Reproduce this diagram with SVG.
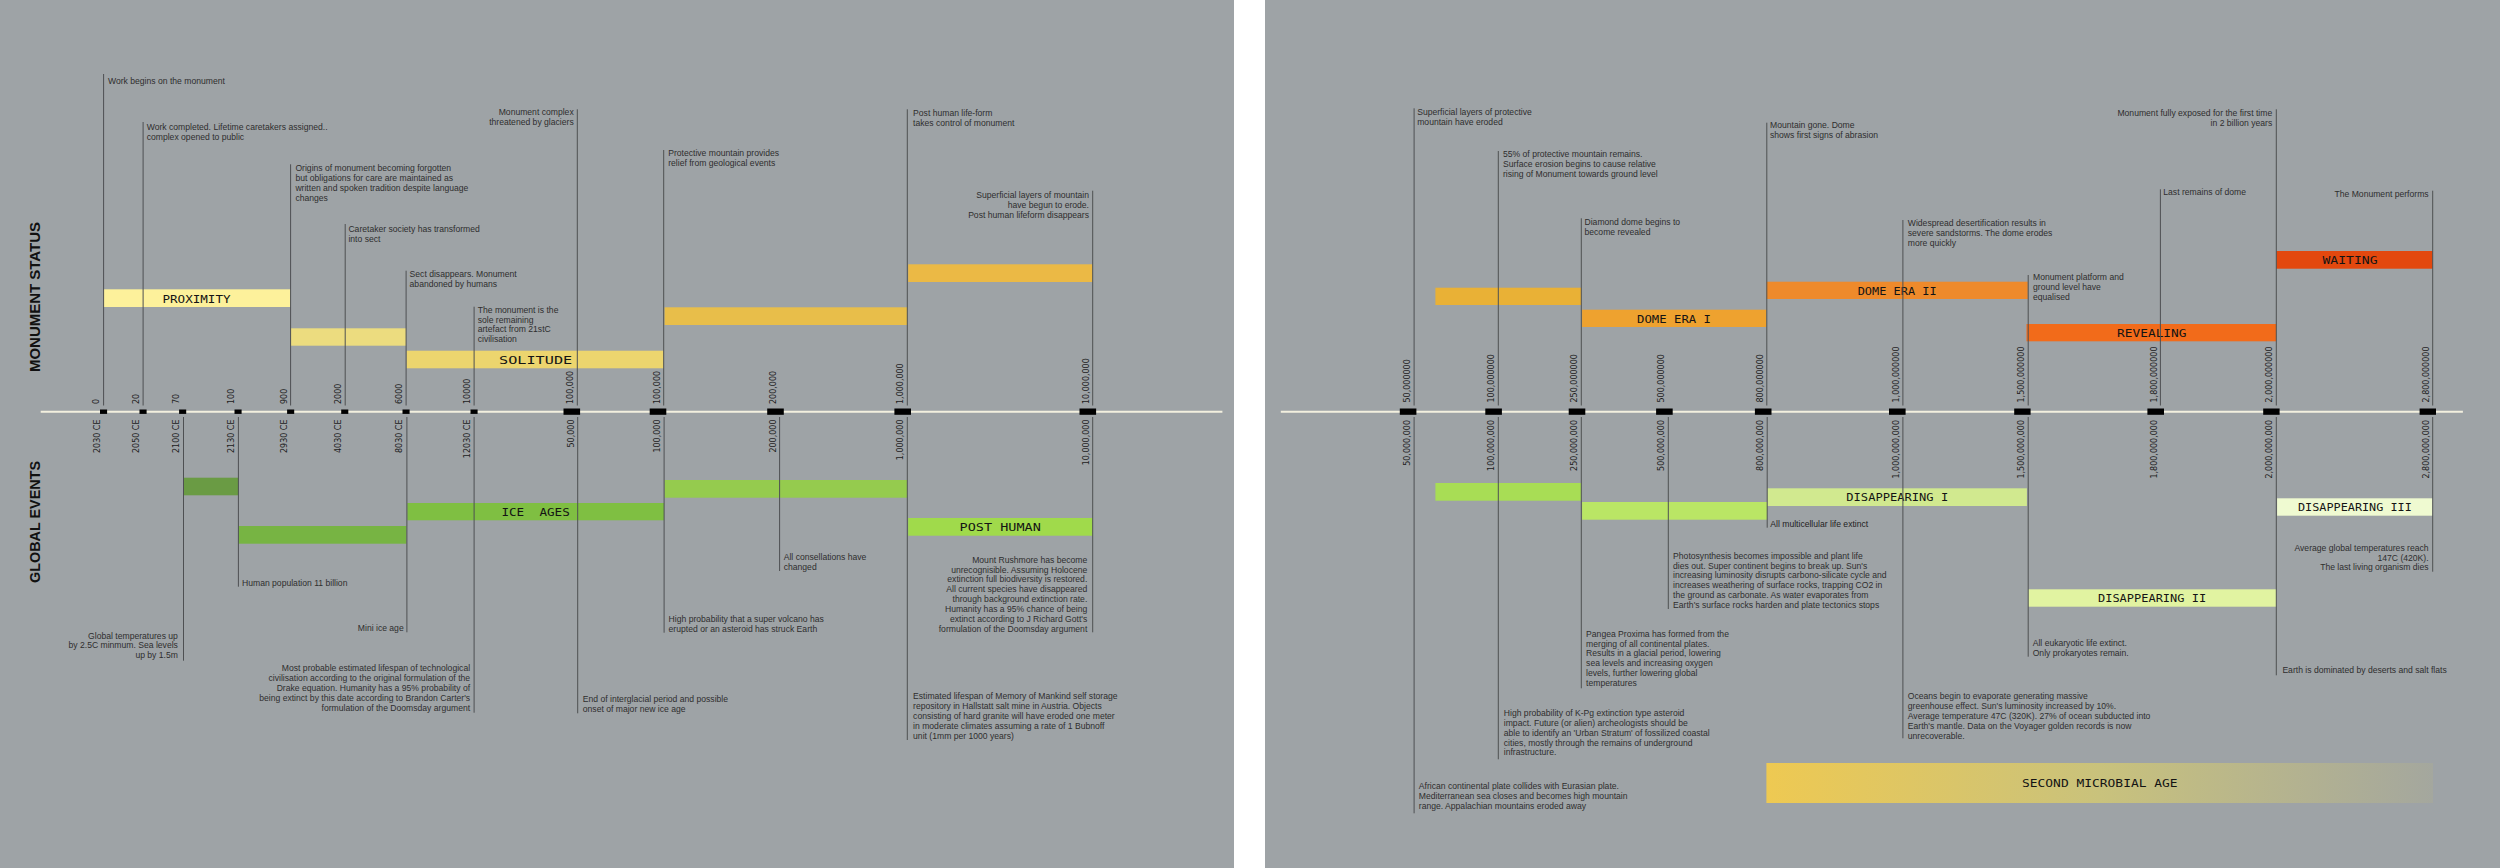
<svg xmlns="http://www.w3.org/2000/svg" width="2500" height="868" viewBox="0 0 2500 868">
<defs>
<linearGradient id="gMicro" x1="0" y1="0" x2="1" y2="0">
<stop offset="0" stop-color="#eec952"/>
<stop offset="0.5" stop-color="#c9c27c"/>
<stop offset="1" stop-color="#a4a79e"/>
</linearGradient>
<style>
.t{font-family:"Liberation Sans",Arial,sans-serif;font-size:8.6px;fill:#2e2e2e}
.r{text-anchor:end}
.tk{font-family:"DejaVu Sans",Verdana,sans-serif;font-size:8px;fill:#1c1c1c}
.tke{font-family:"DejaVu Sans",Verdana,sans-serif;font-size:8px;fill:#1c1c1c;text-anchor:end}
.bl{font-family:"DejaVu Sans Mono",monospace;font-size:11.2px;fill:#141414;white-space:pre}
.ttl{font-family:"Liberation Sans",Arial,sans-serif;font-weight:bold;font-size:15px;fill:#111;text-anchor:middle}
.ax{stroke:#f3f0df;stroke-width:2}
.ms{fill:#000}
#connectors line{stroke:#4e5052;stroke-width:1}
</style>
</defs>
<rect x="0" y="0" width="2500" height="868" fill="#ffffff"/>
<rect x="0" y="0" width="1234" height="868" fill="#9ea3a6"/>
<rect x="1265" y="0" width="1235" height="868" fill="#9ea3a6"/>

<g id="titles">
<text class="ttl" transform="translate(39.5,297) rotate(-90)" textLength="150" lengthAdjust="spacingAndGlyphs">MONUMENT STATUS</text>
<text class="ttl" transform="translate(39.5,522) rotate(-90)" textLength="122" lengthAdjust="spacingAndGlyphs">GLOBAL EVENTS</text>
</g>

<g id="axis-left">
<line class="ax" x1="40.7" y1="411.7" x2="1222.4" y2="411.7"/>
<rect class="ms" x="100" y="409.5" width="7.1" height="4.4"/>
<rect class="ms" x="139.5" y="409.5" width="7.1" height="4.4"/>
<rect class="ms" x="179.1" y="409.5" width="7.1" height="4.4"/>
<rect class="ms" x="234.5" y="409.5" width="7.1" height="4.4"/>
<rect class="ms" x="287.1" y="409.5" width="7.1" height="4.4"/>
<rect class="ms" x="341.2" y="409.5" width="7.1" height="4.4"/>
<rect class="ms" x="402.5" y="409.5" width="7.1" height="4.4"/>
<rect class="ms" x="470.5" y="409.5" width="7.1" height="4.4"/>
<rect class="ms" x="563.5" y="408.5" width="16.6" height="6.3"/>
<rect class="ms" x="649.7" y="408.5" width="16.6" height="6.3"/>
<rect class="ms" x="767.2" y="408.5" width="16.6" height="6.3"/>
<rect class="ms" x="894.4" y="408.5" width="16.6" height="6.3"/>
<rect class="ms" x="1079.5" y="408.5" width="16.6" height="6.3"/>
<text class="tk" transform="translate(99.4,404) rotate(-90)">0</text>
<text class="tk" transform="translate(138.9,404) rotate(-90)">20</text>
<text class="tk" transform="translate(178.7,404) rotate(-90)">70</text>
<text class="tk" transform="translate(234,404) rotate(-90)">100</text>
<text class="tk" transform="translate(286.5,404) rotate(-90)">900</text>
<text class="tk" transform="translate(341,404) rotate(-90)">2000</text>
<text class="tk" transform="translate(402,404) rotate(-90)">6000</text>
<text class="tk" transform="translate(470,404) rotate(-90)">10000</text>
<text class="tk" transform="translate(573.2,404) rotate(-90)">100,000</text>
<text class="tk" transform="translate(659.6,404) rotate(-90)">100,000</text>
<text class="tk" transform="translate(775.5,404) rotate(-90)">200,000</text>
<text class="tk" transform="translate(903.3,404) rotate(-90)">1,000,000</text>
<text class="tk" transform="translate(1088.6,404) rotate(-90)">10,000,000</text>
<text class="tke" transform="translate(99.6,419.5) rotate(-90)">2030 CE</text>
<text class="tke" transform="translate(139.1,419.5) rotate(-90)">2050 CE</text>
<text class="tke" transform="translate(178.8,419.5) rotate(-90)">2100 CE</text>
<text class="tke" transform="translate(234.2,419.5) rotate(-90)">2130 CE</text>
<text class="tke" transform="translate(286.7,419.5) rotate(-90)">2930 CE</text>
<text class="tke" transform="translate(340.6,419.5) rotate(-90)">4030 CE</text>
<text class="tke" transform="translate(402.2,419.5) rotate(-90)">8030 CE</text>
<text class="tke" transform="translate(469.8,419.5) rotate(-90)">12030 CE</text>
<text class="tke" transform="translate(573.6,419.5) rotate(-90)">50,000</text>
<text class="tke" transform="translate(660,419.5) rotate(-90)">100,000</text>
<text class="tke" transform="translate(775.6,419.5) rotate(-90)">200,000</text>
<text class="tke" transform="translate(903.3,419.5) rotate(-90)">1,000,000</text>
<text class="tke" transform="translate(1088.6,419.5) rotate(-90)">10,000,000</text>
</g>

<g id="axis-right">
<line class="ax" x1="1280.8" y1="411.7" x2="2462.9" y2="411.7"/>
<rect class="ms" x="1399.8" y="408.5" width="16.6" height="6.3"/>
<rect class="ms" x="1485.3" y="408.5" width="16.6" height="6.3"/>
<rect class="ms" x="1568.7" y="408.5" width="16.6" height="6.3"/>
<rect class="ms" x="1656.1" y="408.5" width="16.6" height="6.3"/>
<rect class="ms" x="1754.9" y="408.5" width="16.6" height="6.3"/>
<rect class="ms" x="1889" y="408.5" width="16.6" height="6.3"/>
<rect class="ms" x="2014.2" y="408.5" width="16.4" height="6.3"/>
<rect class="ms" x="2147.4" y="408.5" width="16.6" height="6.3"/>
<rect class="ms" x="2263.2" y="408.5" width="16.4" height="6.3"/>
<rect class="ms" x="2419.6" y="408.5" width="16.4" height="6.3"/>
<text class="tk" transform="translate(1410.2,402.5) rotate(-90)">50,000000</text>
<text class="tk" transform="translate(1494.4,402.5) rotate(-90)">100,000000</text>
<text class="tk" transform="translate(1577.4,402.5) rotate(-90)">250,000000</text>
<text class="tk" transform="translate(1664.4,402.5) rotate(-90)">500,000000</text>
<text class="tk" transform="translate(1762.9,402.5) rotate(-90)">800,000000</text>
<text class="tk" transform="translate(1899,402.5) rotate(-90)">1,000,000000</text>
<text class="tk" transform="translate(2024.3,402.5) rotate(-90)">1,500,000000</text>
<text class="tk" transform="translate(2156.5,402.5) rotate(-90)">1,800,000000</text>
<text class="tk" transform="translate(2272.4,402.5) rotate(-90)">2,000,000000</text>
<text class="tk" transform="translate(2428.8,402.5) rotate(-90)">2,800,000000</text>
<text class="tke" transform="translate(1410.2,420) rotate(-90)">50,000,000</text>
<text class="tke" transform="translate(1494.4,420) rotate(-90)">100,000,000</text>
<text class="tke" transform="translate(1577.4,420) rotate(-90)">250,000,000</text>
<text class="tke" transform="translate(1664.4,420) rotate(-90)">500,000,000</text>
<text class="tke" transform="translate(1762.9,420) rotate(-90)">800,000,000</text>
<text class="tke" transform="translate(1899,420) rotate(-90)">1,000,000,000</text>
<text class="tke" transform="translate(2024.3,420) rotate(-90)">1,500,000,000</text>
<text class="tke" transform="translate(2156.5,420) rotate(-90)">1,800,000,000</text>
<text class="tke" transform="translate(2272.4,420) rotate(-90)">2,000,000,000</text>
<text class="tke" transform="translate(2428.8,420) rotate(-90)">2,800,000,000</text>
</g>

<g id="bar-proximity"><rect x="103.6" y="289.3" width="187" height="17.7" fill="#fdf19b"/><text class="bl" x="162.5" y="302.5" textLength="68" lengthAdjust="spacingAndGlyphs">PROXIMITY</text></g>
<g id="bar-tradition"><rect x="291" y="328.3" width="115.1" height="17.4" fill="#ecdc7f"/></g>
<g id="bar-solitude"><rect x="406.5" y="350.7" width="257.2" height="17.6" fill="#ecd56e"/><text class="bl" x="499" y="363.7" textLength="73.2" lengthAdjust="spacingAndGlyphs">SOLITUDE</text></g>
<g id="bar-mountain"><rect x="664.5" y="307.3" width="242.8" height="17.7" fill="#e8be4a"/></g>
<g id="bar-posthuman-control"><rect x="908.2" y="264.3" width="184.5" height="17.7" fill="#ebb945"/></g>

<g id="bar-warming"><rect x="183.5" y="477.7" width="54.9" height="17.6" fill="#6a9b44"/></g>
<g id="bar-population"><rect x="238.4" y="526" width="168.1" height="17.7" fill="#77b443"/></g>
<g id="bar-ice-ages"><rect x="407.3" y="503" width="256.8" height="17.3" fill="#7fbf42"/><text class="bl" x="501.4" y="515.9" textLength="68.4" lengthAdjust="spacingAndGlyphs">ICE  AGES</text></g>
<g id="bar-volcano"><rect x="664.5" y="480" width="242.8" height="17.7" fill="#95cb4e"/></g>
<g id="bar-post-human"><rect x="908.2" y="518" width="184.5" height="17.7" fill="#a0da4b"/><text class="bl" x="959.6" y="531.1" textLength="81.2" lengthAdjust="spacingAndGlyphs">POST HUMAN</text></g>

<g id="bar-erosion"><rect x="1435.4" y="287.7" width="145.9" height="17.3" fill="#e9b136"/></g>
<g id="bar-dome-era-1"><rect x="1582.1" y="309.7" width="184.3" height="17.3" fill="#eea22f"/><text class="bl" x="1637.1" y="322.6" textLength="73.9" lengthAdjust="spacingAndGlyphs">DOME ERA I</text></g>
<g id="bar-dome-era-2"><rect x="1766.4" y="281.7" width="261.4" height="17.3" fill="#ee8a2b"/><text class="bl" x="1857.7" y="294.6" textLength="79" lengthAdjust="spacingAndGlyphs">DOME ERA II</text></g>
<g id="bar-revealing"><rect x="2026.5" y="324" width="249.8" height="17.3" fill="#f26b1a"/><text class="bl" x="2117.1" y="336.9" textLength="69.4" lengthAdjust="spacingAndGlyphs">REVEALING</text></g>
<g id="bar-waiting"><rect x="2276.3" y="251" width="156.4" height="17.7" fill="#e3480e"/><text class="bl" x="2322.4" y="264.1" textLength="55.2" lengthAdjust="spacingAndGlyphs">WAITING</text></g>

<g id="bar-continents"><rect x="1435.4" y="483" width="145.9" height="17.7" fill="#a8dd55"/></g>
<g id="bar-pangea"><rect x="1582.1" y="502" width="185.1" height="17.7" fill="#bae665"/></g>
<g id="bar-disappearing-1"><rect x="1767.2" y="488.3" width="259.7" height="17.7" fill="#d1e98f"/><text class="bl" x="1846.3" y="501.4" textLength="101.9" lengthAdjust="spacingAndGlyphs">DISAPPEARING I</text></g>
<g id="bar-disappearing-2"><rect x="2028.2" y="589.3" width="248.1" height="17.4" fill="#e1f3a1"/><text class="bl" x="2098" y="602.2" textLength="108.1" lengthAdjust="spacingAndGlyphs">DISAPPEARING II</text></g>
<g id="bar-disappearing-3"><rect x="2277.1" y="498.3" width="155.6" height="17.4" fill="#effad1"/><text class="bl" x="2298" y="511.2" textLength="113.8" lengthAdjust="spacingAndGlyphs">DISAPPEARING III</text></g>
<g id="bar-second-microbial-age"><rect x="1766.4" y="763" width="666.6" height="40" fill="url(#gMicro)"/><text class="bl" x="2022" y="787.2" textLength="155.6" lengthAdjust="spacingAndGlyphs">SECOND MICROBIAL AGE</text></g>

<g id="connectors">
<line x1="103.6" y1="74" x2="103.6" y2="405.5"/>
<line x1="143.1" y1="122" x2="143.1" y2="405.5"/>
<line x1="290.6" y1="164.3" x2="290.6" y2="405.5"/>
<line x1="345.2" y1="224" x2="345.2" y2="405.5"/>
<line x1="406.1" y1="270.7" x2="406.1" y2="405.5"/>
<line x1="474.1" y1="306.7" x2="474.1" y2="405.5"/>
<line x1="577.3" y1="109.3" x2="577.3" y2="405.5"/>
<line x1="663.7" y1="150" x2="663.7" y2="405.5"/>
<line x1="907.3" y1="109.3" x2="907.3" y2="405.5"/>
<line x1="1092.7" y1="190.7" x2="1092.7" y2="405.5"/>
<line x1="183.5" y1="417" x2="183.5" y2="660.7"/>
<line x1="238.4" y1="417" x2="238.4" y2="586.7"/>
<line x1="406.9" y1="417" x2="406.9" y2="632.3"/>
<line x1="474.1" y1="417" x2="474.1" y2="712.7"/>
<line x1="577.7" y1="417" x2="577.7" y2="713.3"/>
<line x1="664.1" y1="417" x2="664.1" y2="632.7"/>
<line x1="779.6" y1="417" x2="779.6" y2="571"/>
<line x1="907.3" y1="417" x2="907.3" y2="740"/>
<line x1="1092.7" y1="417" x2="1092.7" y2="632.3"/>
<line x1="1414.1" y1="108.3" x2="1414.1" y2="405.5"/>
<line x1="1498.3" y1="151" x2="1498.3" y2="405.5"/>
<line x1="1581.3" y1="218.3" x2="1581.3" y2="405.5"/>
<line x1="1766.8" y1="122.7" x2="1766.8" y2="405.5"/>
<line x1="1902.9" y1="220" x2="1902.9" y2="405.5"/>
<line x1="2028.2" y1="275" x2="2028.2" y2="405.5"/>
<line x1="2160.4" y1="189.3" x2="2160.4" y2="405.5"/>
<line x1="2276.3" y1="109.3" x2="2276.3" y2="405.5"/>
<line x1="2432.7" y1="190.7" x2="2432.7" y2="405.5"/>
<line x1="1414.1" y1="417" x2="1414.1" y2="813.3"/>
<line x1="1498.3" y1="417" x2="1498.3" y2="759.3"/>
<line x1="1581.3" y1="417" x2="1581.3" y2="688.3"/>
<line x1="1668.3" y1="417" x2="1668.3" y2="609"/>
<line x1="1767.2" y1="417" x2="1767.2" y2="527.7"/>
<line x1="1902.9" y1="417" x2="1902.9" y2="738.3"/>
<line x1="2028.2" y1="417" x2="2028.2" y2="656.7"/>
<line x1="2276.3" y1="417" x2="2276.3" y2="675.3"/>
<line x1="2432.7" y1="417" x2="2432.7" y2="571.7"/>
</g>

<g id="note-work-begins"><text class="t" x="108" y="84.3">Work begins on the monument</text></g>
<g id="note-work-completed"><text class="t" y="130.3"><tspan x="146.7">Work completed. Lifetime caretakers assigned..</tspan><tspan x="146.7" dy="10">complex opened to public</tspan></text></g>
<g id="note-origins"><text class="t" y="171"><tspan x="295.4">Origins of monument becoming forgotten</tspan><tspan x="295.4" dy="10">but obligations for care are maintained as</tspan><tspan x="295.4" dy="10">written and spoken tradition despite language</tspan><tspan x="295.4" dy="10">changes</tspan></text></g>
<g id="note-sect"><text class="t" y="232.3"><tspan x="348.4">Caretaker society has transformed</tspan><tspan x="348.4" dy="10">into sect</tspan></text></g>
<g id="note-sect-disappears"><text class="t" y="277.3"><tspan x="409.6">Sect disappears. Monument</tspan><tspan x="409.6" dy="10">abandoned by humans</tspan></text></g>
<g id="note-sole"><text class="t" y="313"><tspan x="477.7">The monument is the</tspan><tspan x="477.7" dy="9.7">sole remaining</tspan><tspan x="477.7" dy="9.7">artefact from 21stC</tspan><tspan x="477.7" dy="9.7">civilisation</tspan></text></g>
<g id="note-glaciers"><text class="t r" y="115.3"><tspan x="573.7">Monument complex</tspan><tspan x="573.7" dy="10">threatened by glaciers</tspan></text></g>
<g id="note-protective"><text class="t" y="156"><tspan x="668.2">Protective mountain provides</tspan><tspan x="668.2" dy="9.8">relief from geological events</tspan></text></g>
<g id="note-posthuman"><text class="t" y="115.7"><tspan x="913.1">Post human life-form</tspan><tspan x="913.1" dy="10.2">takes control of monument</tspan></text></g>
<g id="note-superficial"><text class="t r" y="198.3"><tspan x="1089">Superficial layers of mountain</tspan><tspan x="1089" dy="9.8">have begun to erode.</tspan><tspan x="1089" dy="9.8">Post human lifeform disappears</tspan></text></g>

<g id="note-temperatures"><text class="t r" y="638.5"><tspan x="177.9">Global temperatures up</tspan><tspan x="177.9" dy="9.9">by 2.5C minmum. Sea levels</tspan><tspan x="177.9" dy="9.9">up by 1.5m</tspan></text></g>
<g id="note-population"><text class="t" x="242" y="585.7">Human population 11 billion</text></g>
<g id="note-mini-ice-age"><text class="t r" x="403.7" y="630.5">Mini ice age</text></g>
<g id="note-drake"><text class="t r" y="670.7"><tspan x="470.1">Most probable estimated lifespan of technological</tspan><tspan x="470.1" dy="9.95">civilisation according to the original formulation of the</tspan><tspan x="470.1" dy="9.95">Drake equation. Humanity has a 95% probability of</tspan><tspan x="470.1" dy="9.95">being extinct by this date according to Brandon Carter's</tspan><tspan x="470.1" dy="9.95">formulation of the Doomsday argument</tspan></text></g>
<g id="note-interglacial"><text class="t" y="702.3"><tspan x="582.8">End of interglacial period and possible</tspan><tspan x="582.8" dy="10">onset of major new ice age</tspan></text></g>
<g id="note-volcano"><text class="t" y="622.3"><tspan x="668.6">High probability that a super volcano has</tspan><tspan x="668.6" dy="10">erupted or an asteroid has struck Earth</tspan></text></g>
<g id="note-constellations"><text class="t" y="560.3"><tspan x="783.7">All consellations have</tspan><tspan x="783.7" dy="10">changed</tspan></text></g>
<g id="note-memory"><text class="t" y="698.7"><tspan x="913.1">Estimated lifespan of Memory of Mankind self storage</tspan><tspan x="913.1" dy="10">repository in Hallstatt salt mine in Austria. Objects</tspan><tspan x="913.1" dy="10">consisting of hard granite will have eroded one meter</tspan><tspan x="913.1" dy="10">in moderate climates assuming a rate of 1 Bubnoff</tspan><tspan x="913.1" dy="10">unit (1mm per 1000 years)</tspan></text></g>
<g id="note-rushmore"><text class="t r" y="562.7"><tspan x="1087.3">Mount Rushmore has become</tspan><tspan x="1087.3" dy="9.86">unrecognisible. Assuming Holocene</tspan><tspan x="1087.3" dy="9.86">extinction full biodiversity is restored.</tspan><tspan x="1087.3" dy="9.86">All current species have disappeared</tspan><tspan x="1087.3" dy="9.86">through background extinction rate.</tspan><tspan x="1087.3" dy="9.86">Humanity has a 95% chance of being</tspan><tspan x="1087.3" dy="9.86">extinct according to J Richard Gott's</tspan><tspan x="1087.3" dy="9.86">formulation of the Doomsday argument</tspan></text></g>

<g id="note-protective-eroded"><text class="t" y="115"><tspan x="1417.2">Superficial layers of protective</tspan><tspan x="1417.2" dy="10">mountain have eroded</tspan></text></g>
<g id="note-55"><text class="t" y="156.7"><tspan x="1503">55% of protective mountain remains.</tspan><tspan x="1503" dy="10">Surface erosion begins to cause relative</tspan><tspan x="1503" dy="10">rising of Monument towards ground level</tspan></text></g>
<g id="note-diamond"><text class="t" y="225"><tspan x="1584.5">Diamond dome begins to</tspan><tspan x="1584.5" dy="10">become revealed</tspan></text></g>
<g id="note-mountain-gone"><text class="t" y="128.3"><tspan x="1770">Mountain gone. Dome</tspan><tspan x="1770" dy="10">shows first signs of abrasion</tspan></text></g>
<g id="note-desertification"><text class="t" y="225.7"><tspan x="1907.8">Widespread desertification results in</tspan><tspan x="1907.8" dy="10">severe sandstorms. The dome erodes</tspan><tspan x="1907.8" dy="10">more quickly</tspan></text></g>
<g id="note-platform"><text class="t" y="280"><tspan x="2033">Monument platform and</tspan><tspan x="2033" dy="10.2">ground level have</tspan><tspan x="2033" dy="10.2">equalised</tspan></text></g>
<g id="note-last-remains"><text class="t" x="2163.3" y="195">Last remains of dome</text></g>
<g id="note-exposed"><text class="t r" y="115.7"><tspan x="2272.2">Monument fully exposed for the first time</tspan><tspan x="2272.2" dy="10">in 2 billion years</tspan></text></g>
<g id="note-performs"><text class="t r" x="2428.6" y="197.3">The Monument performs</text></g>

<g id="note-african"><text class="t" y="789"><tspan x="1418.8">African continental plate collides with Eurasian plate.</tspan><tspan x="1418.8" dy="10">Mediterranean sea closes and becomes high mountain</tspan><tspan x="1418.8" dy="10">range. Appalachian mountains eroded away</tspan></text></g>
<g id="note-kpg"><text class="t" y="716"><tspan x="1503.8">High probability of K-Pg extinction type asteroid</tspan><tspan x="1503.8" dy="9.85">impact. Future (or alien) archeologists should be</tspan><tspan x="1503.8" dy="9.85">able to identify an 'Urban Stratum' of fossilized coastal</tspan><tspan x="1503.8" dy="9.85">cities, mostly through the remains of underground</tspan><tspan x="1503.8" dy="9.85">infrastructure.</tspan></text></g>
<g id="note-pangea"><text class="t" y="636.7"><tspan x="1586.1">Pangea Proxima has formed from the</tspan><tspan x="1586.1" dy="9.82">merging of all continental plates.</tspan><tspan x="1586.1" dy="9.82">Results in a glacial period, lowering</tspan><tspan x="1586.1" dy="9.82">sea levels and increasing oxygen</tspan><tspan x="1586.1" dy="9.82">levels, further lowering global</tspan><tspan x="1586.1" dy="9.82">temperatures</tspan></text></g>
<g id="note-photosynthesis"><text class="t" y="558.7"><tspan x="1673.1">Photosynthesis becomes impossible and plant life</tspan><tspan x="1673.1" dy="9.8">dies out. Super continent begins to break up. Sun's</tspan><tspan x="1673.1" dy="9.8">increasing luminosity disrupts carbono-silicate cycle and</tspan><tspan x="1673.1" dy="9.8">increases weathering of surface rocks, trapping CO2 in</tspan><tspan x="1673.1" dy="9.8">the ground as carbonate. As water evaporates from</tspan><tspan x="1673.1" dy="9.8">Earth's surface rocks harden and plate tectonics stops</tspan></text></g>
<g id="note-multicellular"><text class="t" x="1770.3" y="527.3" style="fill:#1e1e1e">All multicellular life extinct</text></g>
<g id="note-oceans"><text class="t" y="699.3"><tspan x="1907.8">Oceans begin to evaporate generating massive</tspan><tspan x="1907.8" dy="9.8">greenhouse effect. Sun's luminosity increased by 10%.</tspan><tspan x="1907.8" dy="9.8">Average temperature 47C (320K). 27% of ocean subducted into</tspan><tspan x="1907.8" dy="9.8">Earth's mantle. Data on the Voyager golden records is now</tspan><tspan x="1907.8" dy="9.8">unrecoverable.</tspan></text></g>
<g id="note-eukaryotic"><text class="t" y="646.3"><tspan x="2032.7">All eukaryotic life extinct.</tspan><tspan x="2032.7" dy="10">Only prokaryotes remain.</tspan></text></g>
<g id="note-deserts"><text class="t" x="2282.4" y="673.3">Earth is dominated by deserts and salt flats</text></g>
<g id="note-last-organism"><text class="t r" y="551"><tspan x="2428.6">Average global temperatures reach</tspan><tspan x="2428.6" dy="9.7">147C (420K).</tspan><tspan x="2428.6" dy="9.7">The last living organism dies</tspan></text></g>
</svg>
